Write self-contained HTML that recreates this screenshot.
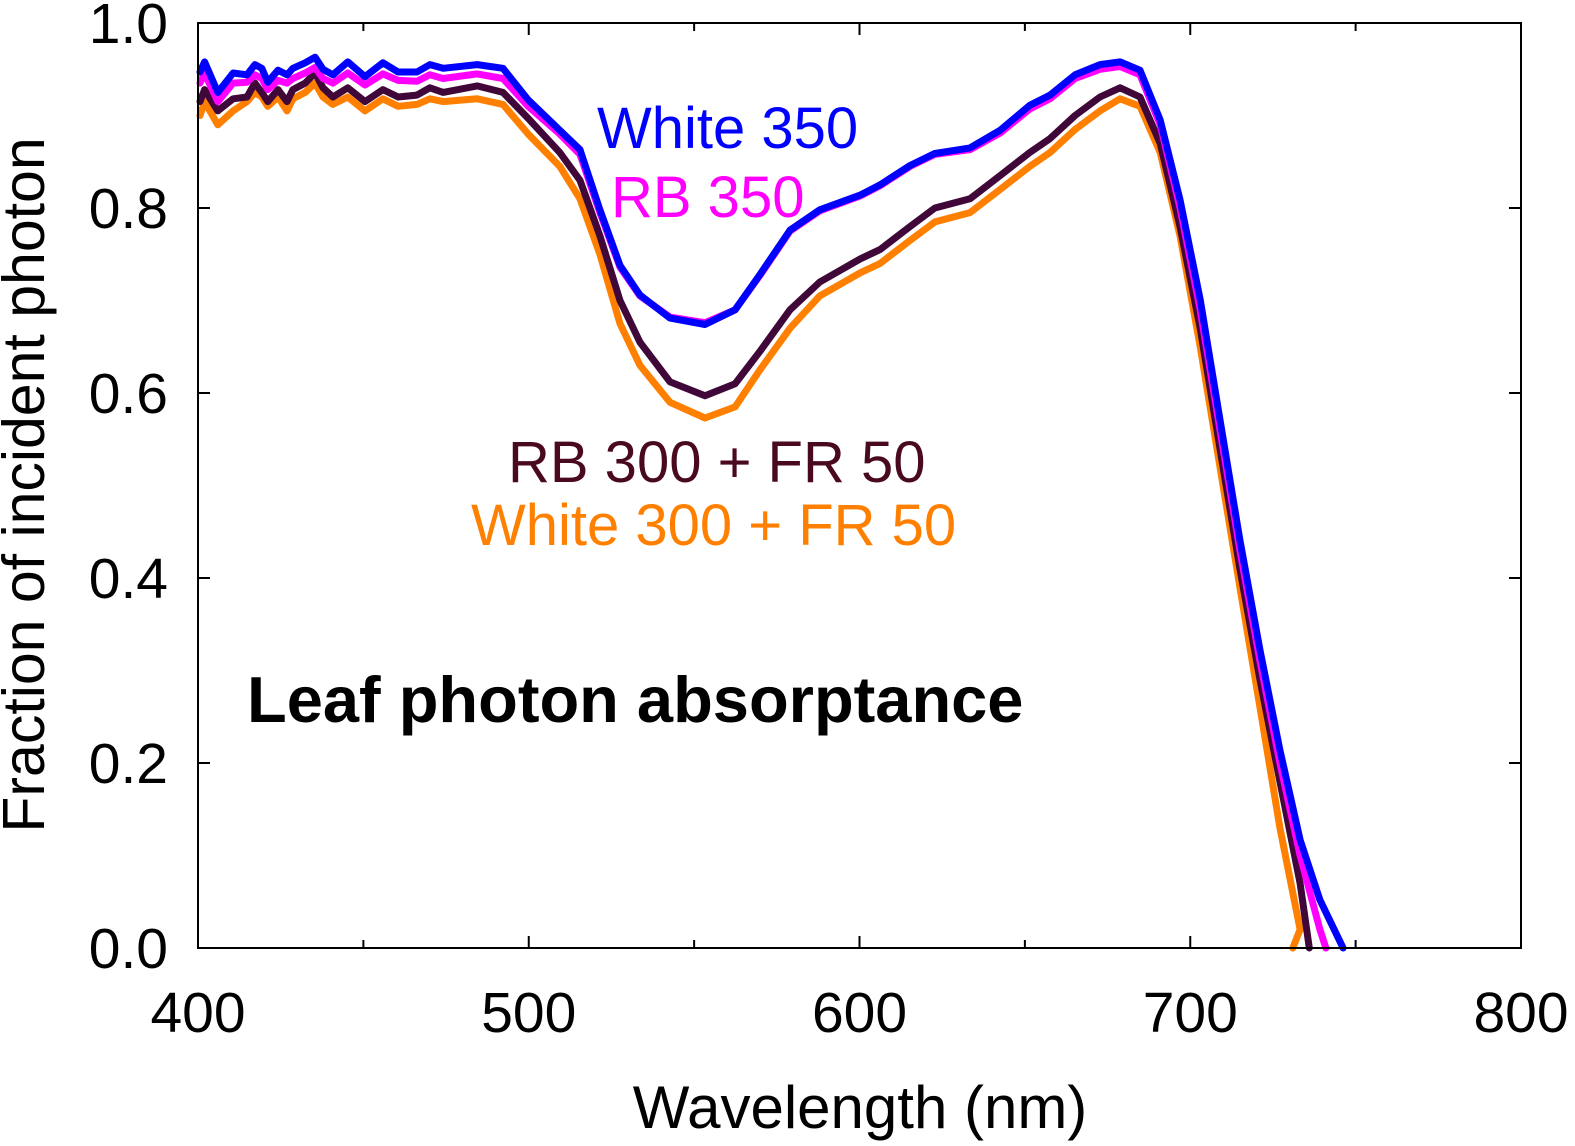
<!DOCTYPE html>
<html><head><meta charset="utf-8"><style>
html,body{margin:0;padding:0;background:#fff;}
svg{display:block;font-family:"Liberation Sans",Arial,sans-serif;}
</style></head><body>
<svg id="chart" width="1575" height="1146" viewBox="0 0 1575 1146" xmlns="http://www.w3.org/2000/svg"></svg>
<script>
const xTicks=[400,500,600,700,800];
const xMinor=[450,550,650,750];
const yTicks=[0.0,0.2,0.4,0.6,0.8,1.0];
const wl=[400.6,402,406,410.6,414.8,417.2,419.3,421.1,424.2,426.9,428.7,432.4,435.4,437.8,440.8,445.3,450.5,455.9,460.5,466.2,470.1,474.1,484.4,492.2,499.8,509.4,515.5,521.5,527.6,533.6,542.7,553.3,562.4,569.9,579,588,600.2,606.2,615.3,622.8,633.4,642.5,651.5,657.6,665.2,672.7,678.8,684.8,690.9,696.9,703,709,715,721.1,727.1,733.2,739.2,746.2];
const white350=[0.947,0.958,0.925,0.946,0.944,0.955,0.951,0.936,0.949,0.944,0.951,0.957,0.963,0.950,0.944,0.958,0.942,0.957,0.947,0.947,0.955,0.951,0.955,0.951,0.917,0.884,0.863,0.798,0.738,0.706,0.681,0.674,0.690,0.728,0.776,0.798,0.814,0.825,0.846,0.859,0.865,0.884,0.911,0.922,0.944,0.955,0.958,0.949,0.895,0.809,0.701,0.571,0.441,0.322,0.214,0.117,0.052,0.0];
const rb350=[0.935,0.946,0.915,0.935,0.936,0.944,0.940,0.928,0.938,0.935,0.940,0.946,0.952,0.940,0.935,0.946,0.933,0.945,0.938,0.937,0.944,0.940,0.945,0.940,0.910,0.880,0.858,0.795,0.736,0.705,0.682,0.676,0.690,0.727,0.775,0.797,0.813,0.824,0.845,0.858,0.863,0.881,0.907,0.918,0.940,0.950,0.953,0.944,0.890,0.800,0.690,0.560,0.430,0.310,0.200,0.100,0.020,null];
const rb300fr=[0.915,0.928,0.905,0.918,0.920,0.935,0.925,0.915,0.928,0.915,0.928,0.935,0.946,0.930,0.920,0.930,0.915,0.928,0.920,0.922,0.930,0.925,0.932,0.925,0.897,0.860,0.830,0.770,0.700,0.655,0.612,0.597,0.610,0.645,0.690,0.720,0.745,0.755,0.780,0.800,0.810,0.835,0.860,0.875,0.900,0.920,0.930,0.920,0.870,0.780,0.670,0.540,0.410,0.290,0.180,0.070,null,null];
const white300fr=[0.900,0.915,0.890,0.905,0.915,0.925,0.920,0.910,0.920,0.905,0.918,0.925,0.935,0.920,0.912,0.920,0.905,0.918,0.910,0.912,0.918,0.915,0.918,0.912,0.880,0.845,0.810,0.750,0.675,0.630,0.590,0.573,0.585,0.625,0.670,0.705,0.730,0.740,0.765,0.785,0.795,0.820,0.845,0.860,0.885,0.905,0.918,0.910,0.860,0.770,0.650,0.520,0.390,0.260,0.130,0.020,null,null];
const ends={white350:746.2,rb350:741,rb300fr:736,white300fr:731};

const X0=198,X1=1521,Y0=948,Y1=23;
const sx=w=>X0+(w-400)/400*(X1-X0);
const sy=v=>Y0-v*(Y0-Y1);
const NS="http://www.w3.org/2000/svg";
const svg=document.getElementById('chart');
function mk(tag,attrs,parent){const e=document.createElementNS(NS,tag);for(const k in attrs)e.setAttribute(k,attrs[k]);(parent||svg).appendChild(e);return e;}

const series=[["white300fr",white300fr,"#ff8000"],["rb300fr",rb300fr,"#3f0838"],["rb350",rb350,"#ff00ff"],["white350",white350,"#0000ff"]];
for(const [name,vals,col] of series){
  const pts=[];
  for(let i=0;i<wl.length;i++){ if(vals[i]==null)break; pts.push(sx(wl[i]).toFixed(1)+","+sy(vals[i]).toFixed(1)); }
  pts.push(sx(ends[name]).toFixed(1)+","+sy(0).toFixed(1));
  const p=mk('polyline',{points:pts.join(" "),fill:"none",stroke:col,"stroke-width":7,"stroke-linejoin":"round","stroke-linecap":"round"});
  
  
}

const fr=mk('rect',{x:X0,y:Y1,width:X1-X0,height:Y0-Y1,fill:"none",stroke:"#000","stroke-width":2});



for(const t of xTicks){
  mk('line',{x1:sx(t),x2:sx(t),y1:Y0,y2:Y0-12,stroke:"#000","stroke-width":2});
  mk('line',{x1:sx(t),x2:sx(t),y1:Y1,y2:Y1+12,stroke:"#000","stroke-width":2});
  const tx=mk('text',{x:sx(t),y:1032,"font-size":57,"text-anchor":"middle",fill:"#000"});
  tx.textContent=t;
  
  
}
for(const t of xMinor){
  mk('line',{x1:sx(t),x2:sx(t),y1:Y0,y2:Y0-8,stroke:"#000","stroke-width":2});
  mk('line',{x1:sx(t),x2:sx(t),y1:Y1,y2:Y1+8,stroke:"#000","stroke-width":2});
}
for(const t of yTicks){
  mk('line',{x1:X0,x2:X0+12,y1:sy(t),y2:sy(t),stroke:"#000","stroke-width":2});
  mk('line',{x1:X1,x2:X1-12,y1:sy(t),y2:sy(t),stroke:"#000","stroke-width":2});
  const ty=mk('text',{x:168,y:sy(t)+20,"font-size":57,"text-anchor":"end",fill:"#000"});
  ty.textContent=t.toFixed(1);
  
  
}
</script>
<script>
(function(){
const svg=document.getElementById('chart');const NS="http://www.w3.org/2000/svg";
function t(txt,attrs,name){const e=document.createElementNS(NS,'text');for(const k in attrs)e.setAttribute(k,attrs[k]);e.textContent=txt;


svg.appendChild(e);}
t("Wavelength (nm)",{x:860,y:1128,"font-size":60,"text-anchor":"middle"},"x-axis-title");
t("Fraction of incident photon",{x:0,y:0,"font-size":59,"text-anchor":"middle",transform:"translate(44,485) rotate(-90)"},"y-axis-title");
t("White 350",{x:597,y:148,"font-size":58,fill:"#0000ff"},"label-white-350");
t("RB 350",{x:611,y:217,"font-size":58,fill:"#ff00ff"},"label-rb-350");
t("RB 300 + FR 50",{x:508,y:482,"font-size":58,fill:"#4a0a1e"},"label-rb-300-fr-50");
t("White 300 + FR 50",{x:471,y:545,"font-size":58,fill:"#ff8000"},"label-white-300-fr-50");
t("Leaf photon absorptance",{x:247,y:722,"font-size":65,"font-weight":"bold"},"chart-title");
})();
</script>
</body></html>
